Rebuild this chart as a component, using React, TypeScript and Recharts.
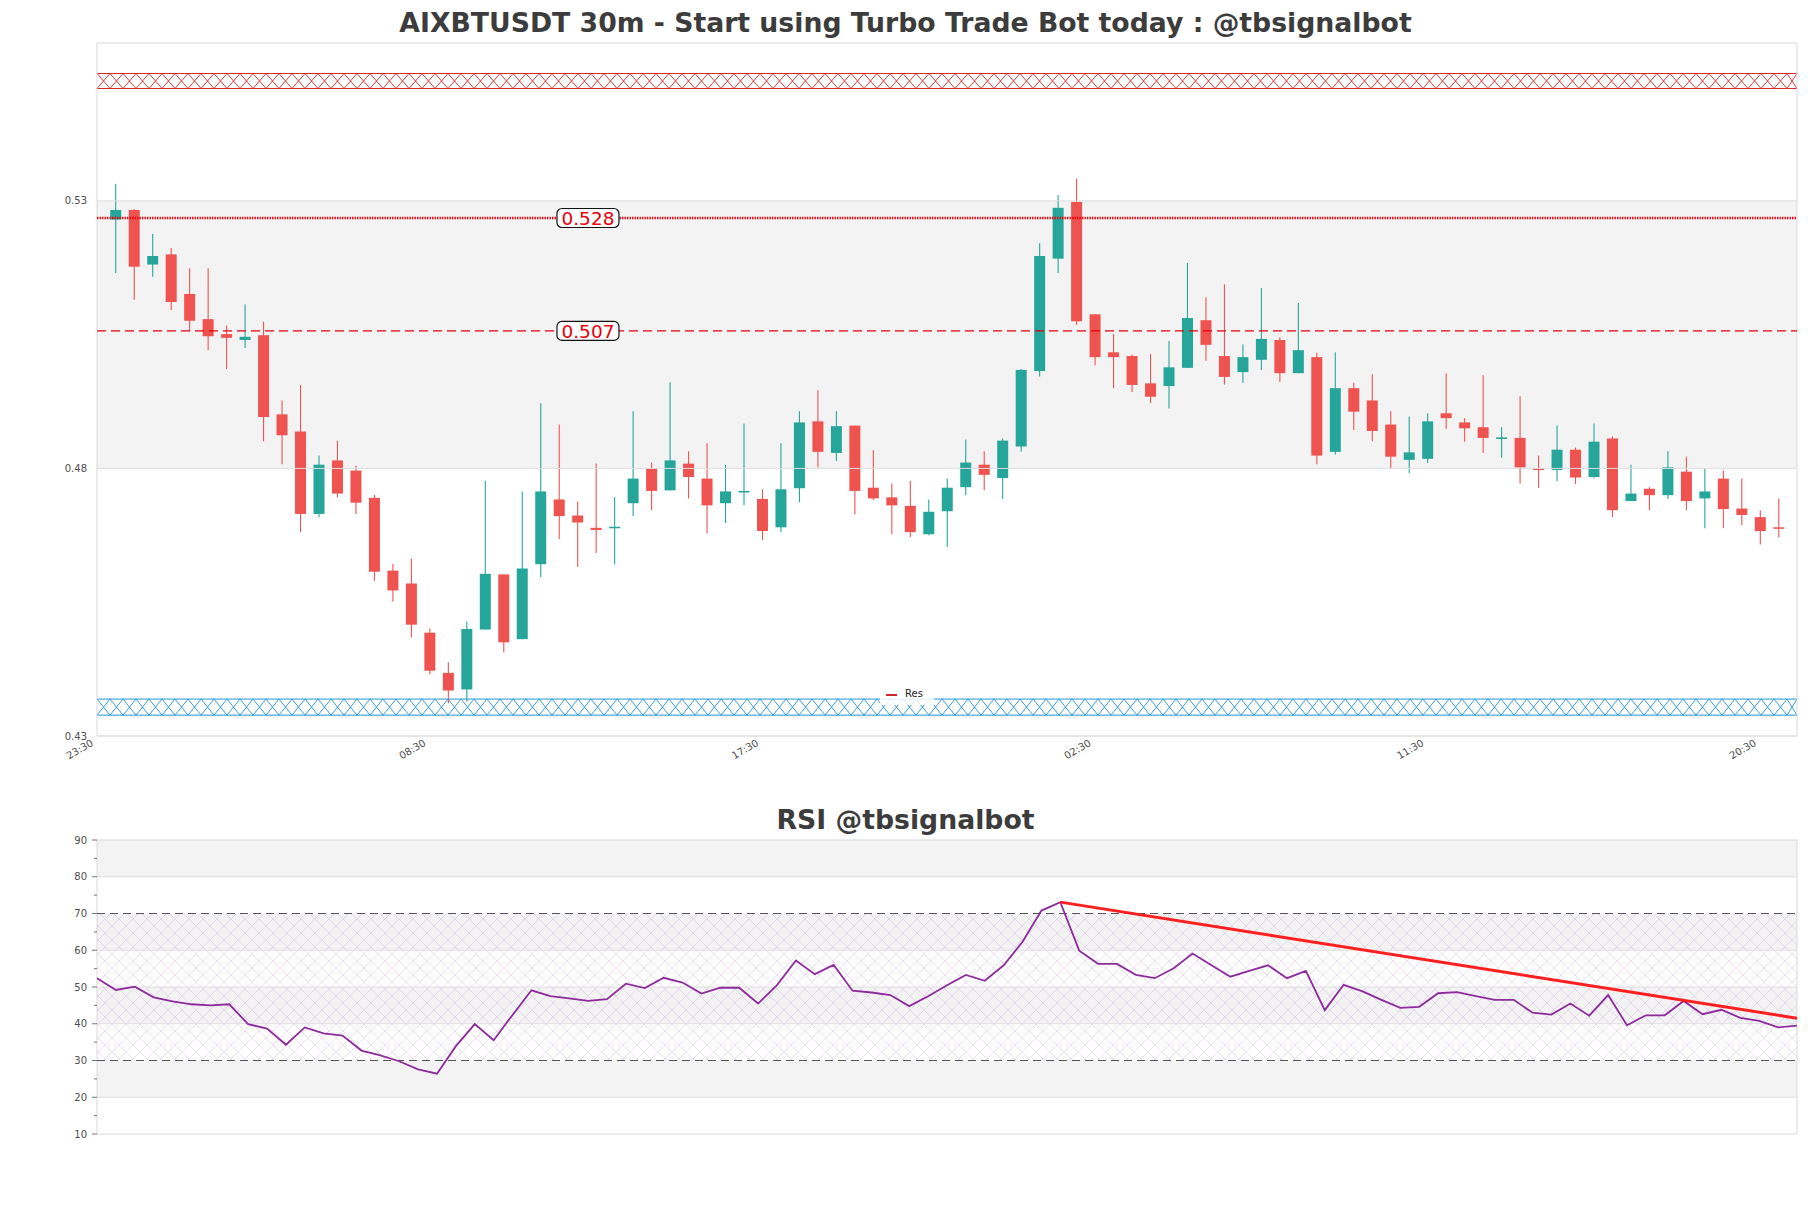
import React from 'react';
import { ComposedChart, LineChart, Line, Bar, XAxis, YAxis, ReferenceArea, ReferenceLine } from 'recharts';

const FONT = '"DejaVu Sans", sans-serif';
const UP = '#26a69a';
const DOWN = '#ef5350';

// 30m candles, the first one is 00:00 (one slot after the 23:30 tick)
const opens = [
  0.5265, 0.5283, 0.5181, 0.5200, 0.5126, 0.5079, 0.5051, 0.5040, 0.5049, 0.4901,
  0.4869, 0.4715, 0.4815, 0.4796, 0.4745, 0.4609, 0.4585, 0.4493, 0.4418, 0.4387,
  0.4499, 0.4602, 0.4481, 0.4621, 0.4742, 0.4712, 0.4689, 0.4690, 0.4735, 0.4800,
  0.4759, 0.4809, 0.4781, 0.4735, 0.4755, 0.4743, 0.4690, 0.4763, 0.4888, 0.4829,
  0.4880, 0.4764, 0.4746, 0.4730, 0.4677, 0.4720, 0.4765, 0.4807, 0.4782, 0.4841,
  0.4982, 0.5192, 0.5298, 0.5088, 0.5017, 0.5010, 0.4959, 0.4954, 0.4988, 0.5077,
  0.5010, 0.4980, 0.5003, 0.5040, 0.4978, 0.5008, 0.4831, 0.4950, 0.4927, 0.4882,
  0.4816, 0.4818, 0.4903, 0.4886, 0.4877, 0.4855, 0.4857, 0.4800, 0.4797, 0.4835,
  0.4784, 0.4856, 0.4739, 0.4762, 0.4750, 0.4794, 0.4744, 0.4781, 0.4725, 0.4709, 0.4690,
];
const highs = [
  0.5332, 0.5285, 0.5238, 0.5212, 0.5174, 0.5174, 0.5067, 0.5107, 0.5074, 0.4927,
  0.4956, 0.4824, 0.4852, 0.4805, 0.4751, 0.4622, 0.4631, 0.4501, 0.4438, 0.4514,
  0.4777, 0.4602, 0.4757, 0.4922, 0.4882, 0.4738, 0.4809, 0.4746, 0.4907, 0.4811,
  0.4961, 0.4832, 0.4847, 0.4807, 0.4884, 0.4761, 0.4847, 0.4907, 0.4946, 0.4907,
  0.4880, 0.4834, 0.4772, 0.4777, 0.4742, 0.4781, 0.4854, 0.4832, 0.4856, 0.4986,
  0.5221, 0.5311, 0.5342, 0.5088, 0.5051, 0.5013, 0.5014, 0.5038, 0.5184, 0.5120,
  0.5144, 0.5032, 0.5137, 0.5045, 0.5109, 0.5016, 0.5017, 0.4960, 0.4976, 0.4907,
  0.4897, 0.4903, 0.4978, 0.4894, 0.4974, 0.4877, 0.4935, 0.4824, 0.4880, 0.4839,
  0.4884, 0.4860, 0.4807, 0.4765, 0.4832, 0.4822, 0.4800, 0.4796, 0.4781, 0.4722, 0.4744,
];
const lows = [
  0.5165, 0.5115, 0.5158, 0.5096, 0.5056, 0.5021, 0.4986, 0.5025, 0.4851, 0.4808,
  0.4681, 0.4709, 0.4746, 0.4715, 0.4590, 0.4551, 0.4484, 0.4415, 0.4361, 0.4364,
  0.4499, 0.4456, 0.4481, 0.4597, 0.4668, 0.4616, 0.4642, 0.4621, 0.4711, 0.4722,
  0.4759, 0.4744, 0.4679, 0.4698, 0.4731, 0.4666, 0.4681, 0.4737, 0.4802, 0.4814,
  0.4714, 0.4741, 0.4677, 0.4672, 0.4675, 0.4653, 0.4750, 0.4759, 0.4743, 0.4831,
  0.4972, 0.5165, 0.5068, 0.4993, 0.4950, 0.4943, 0.4922, 0.4912, 0.4988, 0.5001,
  0.4957, 0.4960, 0.4984, 0.4962, 0.4978, 0.4808, 0.4826, 0.4872, 0.4851, 0.4801,
  0.4791, 0.4810, 0.4874, 0.4850, 0.4829, 0.4820, 0.4772, 0.4764, 0.4776, 0.4771,
  0.4781, 0.4709, 0.4739, 0.4722, 0.4743, 0.4722, 0.4688, 0.4688, 0.4694, 0.4658, 0.4671,
];
const closes = [
  0.5283, 0.5177, 0.5197, 0.5111, 0.5076, 0.5047, 0.5044, 0.5046, 0.4896, 0.4862,
  0.4715, 0.4807, 0.4753, 0.4736, 0.4607, 0.4572, 0.4508, 0.4422, 0.4385, 0.4500,
  0.4603, 0.4475, 0.4613, 0.4757, 0.4711, 0.4699, 0.4685, 0.4691, 0.4781, 0.4758,
  0.4815, 0.4784, 0.4731, 0.4757, 0.4758, 0.4683, 0.4761, 0.4886, 0.4831, 0.4879,
  0.4758, 0.4744, 0.4731, 0.4681, 0.4719, 0.4764, 0.4811, 0.4788, 0.4852, 0.4984,
  0.5197, 0.5287, 0.5075, 0.5008, 0.5008, 0.4956, 0.4934, 0.4989, 0.5081, 0.5031,
  0.4971, 0.5008, 0.5042, 0.4978, 0.5021, 0.4824, 0.4950, 0.4906, 0.4870, 0.4822,
  0.4830, 0.4888, 0.4894, 0.4875, 0.4857, 0.4858, 0.4802, 0.4797, 0.4835, 0.4783,
  0.4850, 0.4722, 0.4753, 0.4750, 0.4802, 0.4739, 0.4757, 0.4724, 0.4713, 0.4683, 0.4688,
];

const timeTicks = [0, 18, 36, 54, 72, 90];
const timeLabels = ['23:30', '08:30', '17:30', '02:30', '11:30', '20:30'];

const priceTicks = [0.43, 0.48, 0.53];
const priceDomain = [0.43, 0.5595];
const resLevels = [0.5268, 0.5057];
const resLabels = ['0.528', '0.507'];
const resZone = [0.5510, 0.5538];
const supZone = [0.4339, 0.4369];

const rsi = [
  52.4, 49.2, 50.1, 47.2, 46.1, 45.3, 45.0, 45.3, 39.9, 38.7,
  34.3, 39.0, 37.4, 36.8, 32.7, 31.4, 29.8, 27.6, 26.4, 33.9,
  39.9, 35.5, 42.4, 49.1, 47.5, 46.9, 46.2, 46.7, 50.9, 49.7,
  52.5, 51.2, 48.2, 49.8, 49.8, 45.5, 50.5, 57.2, 53.5, 56.0,
  49.0, 48.5, 47.8, 44.8, 47.5, 50.5, 53.3, 51.7, 55.9, 62.3,
  70.8, 73.1, 59.9, 56.3, 56.3, 53.3, 52.4, 55.1, 59.1, 55.9,
  52.8, 54.4, 55.9, 52.4, 54.4, 43.7, 50.6, 48.8, 46.5, 44.3,
  44.6, 48.3, 48.6, 47.5, 46.5, 46.5, 43.0, 42.5, 45.5, 42.2,
  47.8, 39.6, 42.3, 42.3, 46.2, 42.6, 43.8, 41.6, 40.8, 39.0, 39.5,
];
const rsiTicks = [10, 15, 20, 25, 30, 35, 40, 45, 50, 55, 60, 65, 70, 75, 80, 85, 90];
const rsiGrid = [20, 40, 50, 60, 80];
const rsiShaded = [[80, 90], [60, 70], [40, 50], [20, 30]];
const rsiTrend = [{ x: 51, y: 73.1 }, { x: 90, y: 41.5 }];

const candles = opens.map((o, i) => ({
  x: i + 1,
  open: o,
  high: highs[i],
  low: lows[i],
  close: closes[i],
  range: [lows[i], highs[i]],
}));
const rsiData = rsi.map((v, i) => ({ i, rsi: v }));

const Candle = (props: any) => {
  const { x, y, width, height, payload } = props;
  if (x == null || y == null) return null;
  const top = Math.min(y, y + height);
  const h = Math.abs(height);
  const { open, close, high, low } = payload;
  const py = (v: number) => top + ((high - v) / (high - low || 1)) * h;
  const color = close >= open ? UP : DOWN;
  const cx = x + width / 2;
  const b0 = py(Math.max(open, close));
  const b1 = py(Math.min(open, close));
  return (
    <g>
      <line x1={cx} x2={cx} y1={top} y2={top + h} stroke={color} strokeWidth={1.1} />
      <rect x={x} y={b0} width={width} height={Math.max(b1 - b0, 1.5)} fill={color} />
    </g>
  );
};

// crosshatched zone drawn straight into the area the scale gives
const HatchZone = (color: string) => (props: any) => {
  const { x, y, width, height } = props;
  const p = 13;
  const lines = [];
  for (let k = 0; k * p < width; k++) {
    const a = x + k * p;
    const b = Math.min(a + p, x + width);
    lines.push(<line key={'a' + k} x1={a} y1={y} x2={b} y2={y + height} stroke={color} strokeWidth={0.9} />);
    lines.push(<line key={'b' + k} x1={b} y1={y} x2={a} y2={y + height} stroke={color} strokeWidth={0.9} />);
  }
  return (
    <g>
      {lines}
      <line x1={x} x2={x + width} y1={y} y2={y} stroke={color} strokeWidth={1} />
      <line x1={x} x2={x + width} y1={y + height} y2={y + height} stroke={color} strokeWidth={1} />
    </g>
  );
};

const LevelTag = (props: any) => {
  const { viewBox, text } = props;
  if (!viewBox) return null;
  const cx = viewBox.x + viewBox.width * 0.2888;
  const cy = viewBox.y;
  return (
    <g>
      <rect x={cx - 31} y={cy - 9.5} width={62} height={19} rx={5} fill="#fff" stroke="#111" strokeWidth={1.2} />
      <text x={cx} y={cy} dy="0.37em" textAnchor="middle" fill="#e8000b" fontSize={18.5} fontFamily={FONT}>{text}</text>
    </g>
  );
};

const TimeTick = (props: any) => {
  const { x, y, payload } = props;
  const idx = timeTicks.indexOf(payload.value);
  return (
    <text x={x - 3} y={y + 9} transform={`rotate(-30, ${x - 3}, ${y + 9})`} textAnchor="end" fill="#4d4d4d" fontSize={10} fontFamily={FONT}>
      {timeLabels[idx]}
    </text>
  );
};

const PriceTick = (props: any) => {
  const { x, y, payload } = props;
  return (
    <text x={x} y={y} dy="0.35em" textAnchor="end" fill="#4d4d4d" fontSize={10} fontFamily={FONT}>
      {payload.value.toFixed(2)}
    </text>
  );
};

const RsiTick = (props: any) => {
  const { x, y, payload } = props;
  const minor = payload.value % 10 !== 0;
  return (
    <g>
      <line x1={x + (minor ? 7 : 5)} x2={x + 10} y1={y} y2={y} stroke="#777" strokeWidth={1} />
      {!minor && (
        <text x={x} y={y} dy="0.35em" textAnchor="end" fill="#4d4d4d" fontSize={10} fontFamily={FONT}>
          {payload.value}
        </text>
      )}
    </g>
  );
};

const titleStyle: React.CSSProperties = {
  position: 'absolute',
  left: 0,
  width: 1811,
  textAlign: 'center',
  fontFamily: FONT,
  fontWeight: 'bold',
  fontSize: 26.7,
  lineHeight: '30px',
  color: '#3c3c3c',
};

export default function App() {
  return (
    <div style={{ position: 'absolute', left: 0, top: 0, width: 1811, height: 1208, background: '#fff' }}>
      <svg width={0} height={0} style={{ position: 'absolute' }}>
        <defs>
          <pattern id="rsiHatch" patternUnits="userSpaceOnUse" width={14} height={14}>
            <path d="M0,0 L14,14 M14,0 L0,14" stroke="#c4a6d6" strokeWidth={0.6} opacity={0.6} />
          </pattern>
        </defs>
      </svg>

      <div style={{ ...titleStyle, top: 8 }}>AIXBTUSDT 30m - Start using Turbo Trade Bot today : @tbsignalbot</div>

      <div style={{ position: 'absolute', left: 0, top: 0 }}>
        <ComposedChart width={1811} height={790} data={candles} margin={{ top: 43, right: 14, left: 0, bottom: 0 }}>
          <XAxis dataKey="x" type="number" domain={[0, 92]} ticks={timeTicks} interval={0} height={54}
            axisLine={false} tickLine={false} tickSize={0} tickMargin={0} tick={<TimeTick />} allowDataOverflow />
          <YAxis type="number" domain={priceDomain} ticks={priceTicks} width={97} axisLine={false} tickLine={false}
            tickSize={0} tickMargin={10} tick={<PriceTick />} allowDataOverflow />
          <ReferenceArea x1={0} x2={92} y1={0.48} y2={0.53} fill="#f3f3f3" fillOpacity={1} stroke="none" />
          {priceTicks.map((v) => (
            <ReferenceLine key={v} y={v} stroke="#dedede" strokeWidth={1} />
          ))}
          <ReferenceArea x1={0} x2={92} y1={resZone[0]} y2={resZone[1]} shape={HatchZone('#d62728')} />
          <ReferenceArea x1={0} x2={92} y1={supZone[0]} y2={supZone[1]} shape={HatchZone('#1f93d6')} />
          <ReferenceLine y={resLevels[0]} stroke="#e8000b" strokeWidth={2.6} strokeDasharray="1.4 1.1"
            label={<LevelTag text={resLabels[0]} />} />
          <ReferenceLine y={resLevels[1]} stroke="#e8000b" strokeWidth={1.4} strokeDasharray="9 5"
            label={<LevelTag text={resLabels[1]} />} />
          <Bar dataKey="range" barSize={11} shape={<Candle />} isAnimationActive={false} />
          <ReferenceArea x1={0} x2={92} y1={priceDomain[0]} y2={priceDomain[1]} fill="none" stroke="#d9d9d9" strokeWidth={1} />
        </ComposedChart>
      </div>

      <div style={{ position: 'absolute', left: 880, top: 685, width: 54, height: 20, background: 'rgba(255,255,255,0.85)',
        fontFamily: FONT, fontSize: 10, color: '#222' }}>
        <span style={{ position: 'absolute', left: 6, top: 9, width: 11, height: 2, background: '#d62728' }} />
        <span style={{ position: 'absolute', left: 25, top: 3 }}>Res</span>
      </div>

      <div style={{ ...titleStyle, top: 805 }}>RSI @tbsignalbot</div>

      <div style={{ position: 'absolute', left: 0, top: 800 }}>
        <LineChart width={1811} height={340} data={rsiData} margin={{ top: 40, right: 14, left: 0, bottom: 6 }}>
          <XAxis dataKey="i" type="number" domain={[0, 90]} hide />
          <YAxis type="number" domain={[10, 90]} ticks={rsiTicks} interval={0} width={97} axisLine={false} tickLine={false}
            tickSize={0} tickMargin={10} tick={<RsiTick />} />
          {rsiShaded.map(([a, b]) => (
            <ReferenceArea key={a} x1={0} x2={90} y1={a} y2={b} fill="#f3f3f3" fillOpacity={1} stroke="none" />
          ))}
          <ReferenceArea x1={0} x2={90} y1={30} y2={70} fill="url(#rsiHatch)" fillOpacity={1} stroke="none" />
          {rsiGrid.map((v) => (
            <ReferenceLine key={v} y={v} stroke="#dedede" strokeWidth={1} />
          ))}
          <ReferenceLine y={70} stroke="#555" strokeWidth={1.2} strokeDasharray="8 5" />
          <ReferenceLine y={30} stroke="#555" strokeWidth={1.2} strokeDasharray="8 5" />
          <Line dataKey="rsi" stroke="#8e2a9e" strokeWidth={1.8} dot={false} isAnimationActive={false} />
          <ReferenceLine segment={rsiTrend} stroke="#ff1f1f" strokeWidth={3} />
          <ReferenceArea x1={0} x2={90} y1={10} y2={90} fill="none" stroke="#d9d9d9" strokeWidth={1} />
        </LineChart>
      </div>
    </div>
  );
}
